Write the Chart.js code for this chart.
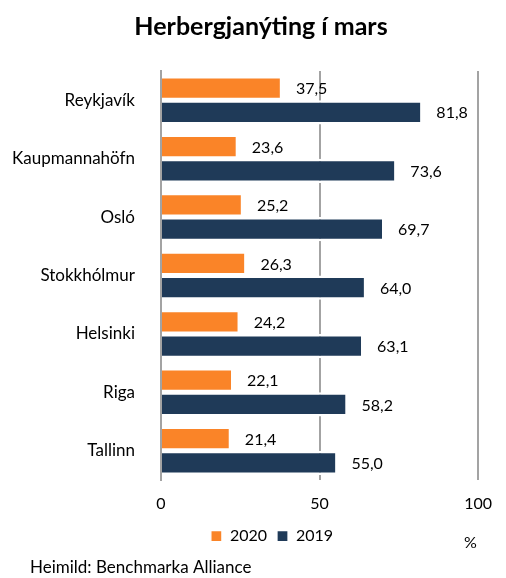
<!DOCTYPE html>
<html>
<head>
<meta charset="utf-8">
<script src="https://cdn.jsdelivr.net/npm/chart.js@4"></script>
<style>
  body { margin: 0; background: #fff; }
  #wrap { width: 506px; height: 578px; }
</style>
</head>
<body>
<div id="wrap"><canvas id="myChart"></canvas></div>
<script>
const borgir = ['Reykjavík', 'Kaupmannahöfn', 'Osló', 'Stokkhólmur', 'Helsinki', 'Riga', 'Tallinn']
const gildi2020 = [37.5, 23.6, 25.2, 26.3, 24.2, 22.1, 21.4]
const gildi2019 = [81.8, 73.6, 69.7, 64.0, 63.1, 58.2, 55.0]
const xTicks = [0, 50, 100]

const letur = 'Lato, "Open Sans", sans-serif'

// titill, tolur vid enda sula, % og heimild
const merkingar = {
    id: 'merkingar',
    afterLayout(chart) {
        // skyringar midjadar undir teikningunni eins og i frumriti
        chart.legend.left = 65
    },
    afterDraw(chart) {
        const ctx = chart.ctx
        ctx.save()
        ctx.fillStyle = '#000'
        ctx.textBaseline = 'middle'
        ctx.font = '16px ' + letur
        chart.data.datasets.forEach((ds, i) => {
            chart.getDatasetMeta(i).data.forEach((bar, j) => {
                const txt = ds.data[j].toFixed(1).replace('.', ',')
                ctx.fillText(txt, bar.x + 16, bar.y + 1)
            })
        })
        ctx.fillText('%', 464, 543)
        ctx.font = '17px ' + letur
        ctx.fillText('Heimild: Benchmarka Alliance', 30, 568)
        ctx.font = 'bold 25px ' + letur
        ctx.textAlign = 'center'
        ctx.fillText('Herbergjanýting í mars', 261, 27)
        ctx.restore()
    }
}

const ctx = document.getElementById('myChart')
const myChart = new Chart(ctx, {
    type: 'bar',
    data: {
        labels: borgir,
        datasets: [{
            label: '2020',
            data: gildi2020,
            backgroundColor: '#FA8428',
            borderColor: '#ffffff',
            borderWidth: { top: 2.5, bottom: 2.5, left: 0, right: 0 },
            borderSkipped: false,
            categoryPercentage: 0.83,
            barPercentage: 1
        }, {
            label: '2019',
            data: gildi2019,
            backgroundColor: '#1F3A58',
            borderColor: '#ffffff',
            borderWidth: { top: 2.5, bottom: 2.5, left: 0, right: 0 },
            borderSkipped: false,
            categoryPercentage: 0.83,
            barPercentage: 1
        }]
    },
    options: {
        indexAxis: 'y',
        responsive: true,
        maintainAspectRatio: false,
        animation: false,
        layout: { padding: { left: 4, right: 27, top: 71, bottom: 24 } },
        scales: {
            x: {
                min: 0,
                max: 100,
                afterBuildTicks: (s) => { s.ticks = xTicks.map(v => ({ value: v })) },
                afterFit: (s) => { s.height = 38 },
                grid: { color: '#a3a3a3', lineWidth: 2, drawTicks: false },
                border: { display: false },
                ticks: { color: '#000', font: { family: letur, size: 16 }, padding: 14 }
            },
            y: {
                afterFit: (s) => { s.width = 161 - 4 },
                grid: { display: false },
                border: { display: true, color: '#a3a3a3', width: 2 },
                ticks: { color: '#000', font: { family: letur, size: 17 }, padding: 18 }
            }
        },
        plugins: {
            legend: {
                position: 'bottom',
                labels: {
                    color: '#000',
                    boxWidth: 11,
                    boxHeight: 11,
                    padding: 10,
                    font: { family: letur, size: 16 }
                }
            },
            tooltip: { enabled: false }
        }
    },
    plugins: [merkingar]
})
</script>
</body>
</html>
